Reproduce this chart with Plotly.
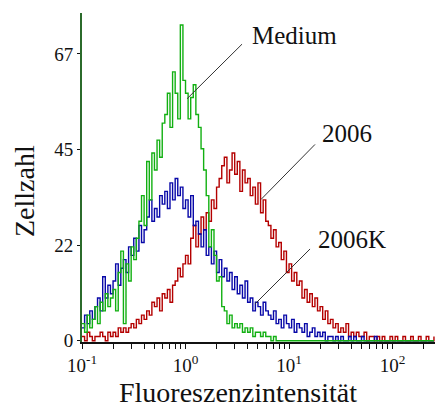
import numpy as np
import plotly.graph_objects as go

# Histogram channel grid (log10 of fluorescence), one value per channel
log_start = -1.0
log_step = 0.025

medium = [4, 2, 6, 3, 5, 8, 4, 9, 7, 11, 8, 10, 12, 7, 16, 21, 4, 18, 14, 22,
          19, 24, 28, 34, 27, 42, 33, 44, 40, 47, 43, 51, 53, 58, 50, 63,
          58, 52, 74, 61, 58, 52, 57, 60, 53, 50, 45, 40, 34, 22, 26, 20,
          14, 15, 8, 7, 4, 6, 3, 4, 3, 4, 2, 3, 2, 3, 1, 2, 2, 1, 2, 1,
          1, 0, 1, 0,
          0, 0, 0, 0, 0, 0, 0, 0, 0, 0, 0, 0, 0, 0, 0, 0, 0, 0, 0, 0,
          0, 0, 0, 0, 0, 0, 0, 0, 0, 0, 0, 0, 0, 0, 0, 0, 0, 0, 0, 0,
          0, 0, 0, 0, 0, 0, 0, 0, 0, 0, 0, 0, 0, 0, 0, 0, 0, 0, 0, 0, 0]

s2006k = [3, 6, 4, 7, 5, 8, 10, 7, 15, 10, 13, 11, 14, 18, 13, 17, 19, 16, 22, 20,
          24, 21, 27, 23, 26, 29, 33, 28, 31, 29, 34, 32, 35, 31, 37, 33,
          38, 34, 36, 31, 33, 29, 34, 27, 28, 25, 22, 26, 20, 22, 18, 21,
          16, 19, 15, 17, 14, 16, 12, 15, 11, 13, 10, 14, 9, 10, 7, 9,
          8, 6, 9, 7, 6, 5, 7, 4, 5, 3, 6, 4, 3, 5, 2, 4, 3, 2, 4, 1,
          2, 3, 1, 2, 1, 2, 0, 1, 1, 0, 1, 0, 1, 0, 0, 1, 0, 1, 0, 0,
          1, 0, 0, 0, 0, 1, 0, 0,
          0, 0, 0, 0, 0, 0, 0, 0, 0, 0, 0, 0, 0, 0, 0, 0, 0, 0, 0, 0, 0]

s2006 = [1, 0, 2, 1, 0, 1, 1, 2, 1, 0, 2, 1, 2, 1, 3, 2, 3, 2, 3, 4,
         3, 5, 4, 6, 5, 7, 6, 9, 8, 10, 7, 11, 10, 12, 9, 13,
         14, 17, 15, 18, 20, 18, 24, 27, 22, 25, 29, 26, 30, 28, 33, 31,
         36, 38, 41, 43, 37, 40, 44, 39, 42, 35, 40, 37, 38, 34, 36, 32,
         37, 30, 33, 28, 27, 24, 26, 22, 23, 19, 21, 16, 18, 14, 16, 13,
         14, 10, 12, 9, 11, 8, 10, 7, 8, 5, 7, 4, 5, 3, 4, 2, 3, 2, 4, 1,
         2, 1, 2, 1, 1, 2, 0, 1, 1, 0, 1, 0, 1, 0, 0, 1, 0, 1, 0, 0,
         1, 0, 0, 1, 0, 0, 1, 0, 0, 1, 0, 0, 1]

y_tickvals = [0, 22.4, 44.8, 67.2]
y_ticktext = ["0", "22", "45", "67"]
decades = [-1, 0, 1, 2]

channels = 10 ** (log_start + log_step * np.arange(len(medium)))

FONT = "Liberation Serif"

fig = go.Figure()
for vals, col, name in [(s2006, "#b40000", "2006"),
                        (s2006k, "#0808a8", "2006K"),
                        (medium, "#12b012", "Medium")]:
    fig.add_trace(go.Scatter(x=channels, y=vals, mode="lines", name=name,
                             line=dict(color=col, width=1.4, shape="hv")))

major_vals = [10.0 ** d for d in decades]
major_text = [f"10<sup>{d}</sup>" for d in decades]
minor_vals = [k * 10.0 ** d for d in decades for k in range(2, 10)
              if np.log10(k * 10.0 ** d) <= 2.41]

fig.update_layout(
    width=435, height=408,
    margin=dict(l=82, r=0, t=13, b=66),
    paper_bgcolor="white", plot_bgcolor="white",
    showlegend=False,
    font=dict(family=FONT, color="#111"),
    xaxis=dict(type="log", range=[-1, 2.41], showline=True, linecolor="#111",
               linewidth=2, ticks="outside", ticklen=5, tickcolor="#111",
               tickvals=major_vals, ticktext=major_text, showgrid=False,
               minor=dict(tickvals=minor_vals, ticks="outside", ticklen=5,
                          tickcolor="#111", showgrid=False),
               zeroline=False, layer="below traces",
               tickfont=dict(family=FONT, size=19, color="#111")),
    yaxis=dict(range=[-0.3, 76.8], showline=True, linecolor="#2b6b2b",
               linewidth=2, ticks="outside", ticklen=3, tickcolor="#111",
               tickvals=y_tickvals, ticktext=y_ticktext, showgrid=False,
               zeroline=False,
               tickfont=dict(family=FONT, size=19, color="#111")),
)

fig.add_annotation(text="Fluoreszenzintensität", xref="paper", yref="paper",
                   x=0.442, y=-0.152, xanchor="center", yanchor="middle",
                   showarrow=False, font=dict(family=FONT, size=28, color="#111"))
fig.add_annotation(text="Zellzahl", xref="paper", yref="paper",
                   x=-0.1615, y=0.459, xanchor="center", yanchor="middle",
                   textangle=-90, showarrow=False,
                   font=dict(family=FONT, size=28, color="#111"))

labels = [("Medium", 1.048, 71.6, (0.546, 69.5), (0.0145, 56.7)),
          ("2006", 1.560, 48.6, (1.251, 46.0), (0.729, 33.1)),
          ("2006K", 1.604, 23.8, (1.203, 21.5), (0.671, 8.6))]
for txt, lx, ly, p0, p1 in labels:
    fig.add_annotation(text=txt, x=lx, y=ly, xref="x", yref="y",
                       xanchor="center", yanchor="middle", showarrow=False,
                       font=dict(family=FONT, size=25, color="#111"))
    fig.add_shape(type="line", xref="x", yref="y",
                  x0=10 ** p0[0], y0=p0[1], x1=10 ** p1[0], y1=p1[1],
                  line=dict(color="#333", width=1))

fig.write_html("out.html")
